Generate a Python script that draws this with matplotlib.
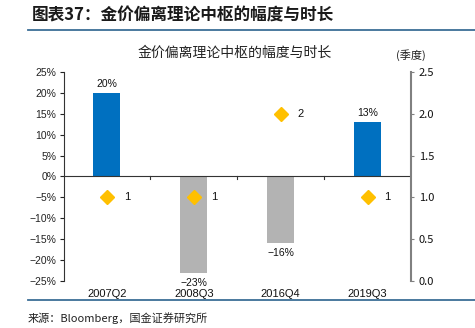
import matplotlib
matplotlib.use("Agg")
import matplotlib.pyplot as plt
from matplotlib.lines import Line2D
import numpy as np

categories = ["2007Q2", "2008Q3", "2016Q4", "2019Q3"]
deviation = [0.20, -0.23, -0.16, 0.13]          # 偏离幅度
duration = [1, 1, 2, 1]                          # 时长（季度）
left_ticks = [0.25, 0.20, 0.15, 0.10, 0.05, 0.0, -0.05, -0.10, -0.15, -0.20, -0.25]
right_ticks = [0.0, 0.5, 1.0, 1.5, 2.0, 2.5]

CJK = ["Noto Sans CJK SC", "DejaVu Sans"]
LAT = ["Liberation Sans", "DejaVu Sans"]

fig = plt.figure(figsize=(4.75, 3.28), dpi=100)
ax = fig.add_axes([0.1337, 0.1433, 0.8653 - 0.1337, 0.7805 - 0.1433])
ax2 = ax.twinx()

x = np.arange(len(categories))
colors = ["#0070C0" if v > 0 else "#B3B3B3" for v in deviation]
ax.bar(x, deviation, width=0.31, color=colors, zorder=2)
ax.set_xlim(-0.5, len(categories) - 0.5)
ax.set_ylim(-0.25, 0.25)
ax.set_yticks(left_ticks)
ax.set_yticklabels([f"{int(round(t*100))}%".replace("-", "−") for t in left_ticks],
                   fontsize=7.5, family=LAT)
ax.tick_params(axis="y", direction="out", length=3, width=0.8, pad=2, colors="#222222")
ax.set_xticks([])
for s in ["top", "right", "bottom"]:
    ax.spines[s].set_visible(False)
ax.spines["left"].set_color("#333333")
ax.spines["left"].set_linewidth(0.8)

# zero line with category boundary ticks
ax.axhline(0, color="#333333", lw=0.8, zorder=3)
for b in np.arange(0.5, len(categories) - 0.5, 1.0):
    ax.plot([b, b], [0, -0.006], color="#333333", lw=0.8, zorder=3, clip_on=False)

# category labels
for xi, c in zip(x, categories):
    ax.text(xi, -0.282, c, ha="center", va="center", fontsize=8, family=LAT, color="#111111")

# bar value labels
for xi, v in zip(x, deviation):
    lab = f"{int(round(v*100))}%".replace("-", "−")
    if v > 0:
        ax.text(xi, v + 0.022, lab, ha="center", va="center", fontsize=7.5, family=LAT, color="#111111")
    else:
        ax.text(xi, v - 0.024, lab, ha="center", va="center", fontsize=7.5, family=LAT, color="#111111")

# right axis: duration
ax2.plot(x, duration, linestyle="none", marker="D", markersize=7.5,
         color="#FFC000", markeredgecolor="#FFC000", zorder=4)
for xi, d in zip(x, duration):
    ax2.annotate(str(d), (xi, d), xytext=(14.5, 0), textcoords="offset points",
                 ha="center", va="center", fontsize=8, family=LAT, color="#111111")
ax2.set_ylim(0, 2.5)
ax2.set_yticks(right_ticks)
ax2.set_yticklabels([f"{t:.1f}" for t in right_ticks], fontsize=8, family=CJK, color="#111111")
ax2.tick_params(axis="y", direction="out", length=2.5, width=0.8, pad=3, colors="#808080",
                labelcolor="#111111")
for s in ["top", "left", "bottom"]:
    ax2.spines[s].set_visible(False)
ax2.spines["right"].set_color("#808080")
ax2.spines["right"].set_linewidth(1.5)

# titles
fig.text(32 / 475, 1 - 15 / 328, "图表37：金价偏离理论中枢的幅度与时长", ha="left", va="center",
         fontsize=12, fontweight="bold", family=CJK, color="#1a1a1a")
fig.add_artist(Line2D([28 / 475, 1.0], [1 - 30 / 328] * 2, color="#3c6e96", lw=1.3))
fig.text(235 / 475, 1 - 53 / 328, "金价偏离理论中枢的幅度与时长", ha="center", va="center",
         fontsize=10, family=CJK, color="#222222")
fig.text(411 / 475, 1 - 55 / 328, "(季度)", ha="center", va="center",
         fontsize=8, family=CJK, color="#222222")
fig.add_artist(Line2D([28 / 475, 1.0], [1 - 299.5 / 328] * 2, color="#3c6e96", lw=1.3))
fig.text(28 / 475, 1 - 318 / 328, "来源：Bloomberg，国金证券研究所", ha="left", va="center",
         fontsize=8, family=CJK, color="#222222")

fig.savefig("out.png", dpi=100)
